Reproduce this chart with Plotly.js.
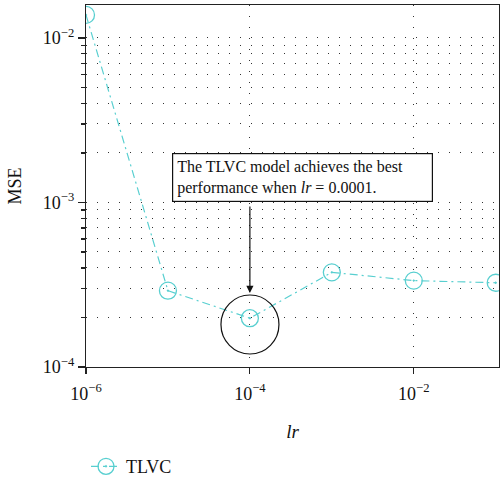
<!DOCTYPE html>
<html>
<head>
<meta charset="utf-8">
<script src="https://cdn.plot.ly/plotly-3.0.1.min.js"></script>
<style>html,body{margin:0;padding:0;background:#fff;}#chart{width:500px;height:483px;}</style>
</head>
<body>
<div id="chart"></div>
<script>
const seriesName = "TLVC";
const lr = [1e-6, 1e-5, 1e-4, 1e-3, 1e-2, 1e-1];
const mse = [0.0138, 2.91e-4, 1.98e-4, 3.76e-4, 3.35e-4, 3.25e-4];
const xMajorTicks = [1e-6, 1e-4, 1e-2];
const xTickText = ["10<sup>\u22126</sup>", "10<sup>\u22124</sup>", "10<sup>\u22122</sup>"];
const yMajorTicks = [1e-4, 1e-3, 1e-2];
const yTickText = ["10<sup>\u22124</sup>", "10<sup>\u22123</sup>", "10<sup>\u22122</sup>"];
const yMinorTicks = [2e-4,3e-4,4e-4,5e-4,6e-4,7e-4,8e-4,9e-4,2e-3,3e-3,4e-3,5e-3,6e-3,7e-3,8e-3,9e-3];
const noteText = "The TLVC model achieves the best<br>performance when <i>lr</i> = 0.0001.";
const bestLr = 1e-4;

const serif = "Liberation Serif";
const cyan = "#58cfd0";
const dotDash = "1px,10px";

const trace = {
  x: lr, y: mse, type: "scatter", mode: "lines+markers", name: seriesName,
  line: {color: cyan, width: 1.2, dash: "8px,4px,2px,4px"},
  marker: {symbol: "circle-open-dot", size: 17, color: cyan, line: {color: cyan, width: 1.3}}
};

const bx = Math.log10(bestLr);
/* highlight circle in paper units (plot area 413 x 362 px) */
const cx = 0.397, cy = 0.1174, rx = 29 / 413, ry = 29.5 / 362;

const layout = {
  width: 500, height: 483,
  margin: {l: 86, r: 1, t: 5, b: 116, autoexpand: false},
  paper_bgcolor: "#fff", plot_bgcolor: "#fff",
  font: {family: serif, color: "#111", size: 16},
  showlegend: true,
  legend: {x: 0.0, xanchor: "left", y: -0.224, yanchor: "top", orientation: "h",
           font: {family: serif, size: 18, color: "#111"}, bgcolor: "rgba(0,0,0,0)"},
  xaxis: {
    type: "log", range: [-6, -0.96],
    tickmode: "array", tickvals: xMajorTicks, ticktext: xTickText,
    ticks: "outside", ticklen: 6, tickwidth: 1.2, tickcolor: "#222", ticklabelstandoff: 4,
    showline: true, linecolor: "#222", linewidth: 1.2, mirror: true,
    showgrid: true, gridcolor: "#333", gridwidth: 1, griddash: dotDash,
    zeroline: false,
    tickfont: {family: serif, size: 18, color: "#111"},
    title: {text: "<i>lr</i>", font: {family: serif, size: 19, color: "#111"}, standoff: 22}
  },
  yaxis: {
    type: "log", range: [-4, -1.80],
    tickmode: "array", tickvals: yMajorTicks, ticktext: yTickText,
    ticks: "outside", ticklen: 7, tickwidth: 1.2, tickcolor: "#222",
    showline: true, linecolor: "#222", linewidth: 1.2, mirror: true,
    showgrid: true, gridcolor: "#333", gridwidth: 1, griddash: dotDash,
    zeroline: false,
    minor: {tickmode: "array", tickvals: yMinorTicks, ticks: "outside", ticklen: 4,
            tickwidth: 1.2, tickcolor: "#222", showgrid: true, gridcolor: "#333",
            gridwidth: 1, griddash: dotDash},
    tickfont: {family: serif, size: 18, color: "#111"},
    title: {text: "MSE", font: {family: serif, size: 18, color: "#111"}, standoff: 16}
  },
  shapes: [{
    type: "circle", xref: "paper", yref: "paper", layer: "above",
    x0: cx - rx, x1: cx + rx, y0: cy - ry, y1: cy + ry,
    line: {color: "#111", width: 1.2}, fillcolor: "rgba(0,0,0,0)"
  }],
  annotations: [
    {
      xref: "x", yref: "y", x: -4.951, y: -2.699, xanchor: "left", yanchor: "top",
      text: noteText, showarrow: false, align: "left", width: 251,
      bordercolor: "#111", borderwidth: 1.2, borderpad: 4, bgcolor: "#fff",
      font: {family: serif, size: 16, color: "#111"}
    },
    {
      xref: "x", yref: "y", x: bx, y: -3.55, text: "",
      showarrow: true, ax: 0, ay: -88, arrowhead: 2, arrowsize: 1.2, arrowwidth: 1.2,
      arrowcolor: "#111"
    }
  ]
};

Plotly.newPlot("chart", [trace], layout, {displayModeBar: false, staticPlot: true});
</script>
</body>
</html>
